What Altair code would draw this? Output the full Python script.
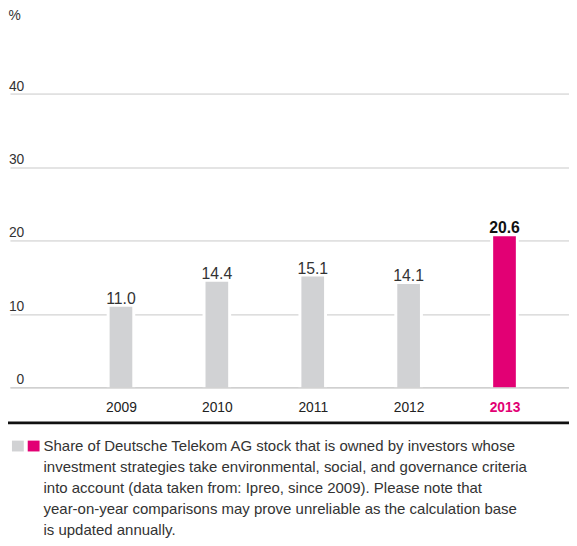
import altair as alt
import pandas as pd

years = [2009, 2010, 2011, 2012, 2013]
values = [11.0, 14.4, 15.1, 14.1, 20.6]
highlight_year = 2013
y_ticks = [0, 10, 20, 30, 40]
note_lines = [
    "Share of Deutsche Telekom AG stock that is owned by investors whose",
    "investment strategies take environmental, social, and governance criteria",
    "into account (data taken from: Ipreo, since 2009). Please note that",
    "year-on-year comparisons may prove unreliable as the calculation base",
    "is updated annually.",
]

GRAY = "#d1d2d4"
MAGENTA = "#e20074"
GRID = "#c8c8c8"
FONT = "Liberation Sans"

df = pd.DataFrame({
    "year": years,
    "value": values,
    "label": [f"{v:.1f}" for v in values],
    "hl": [y == highlight_year for y in years],
})

W, H = 567, 372
STEP = 99.0
FIRST = 109.5  # pixel centre of first bar inside the plot
x_domain = [years[0] - FIRST / STEP, years[0] + (W - FIRST) / STEP]

x = alt.X("year:Q",
          scale=alt.Scale(domain=x_domain, nice=False, zero=False),
          axis=alt.Axis(title=None, values=years, format="d", ticks=False, tickSize=0,
                        domain=True, domainColor=GRID, domainWidth=1, grid=False,
                        labelPadding=13, labelFontSize=14, labelFont=FONT,
                        labelAngle=0, labelFlush=False, zindex=1,
                        labelColor=alt.condition(f"datum.value == {highlight_year}",
                                                 alt.value(MAGENTA), alt.value("#222222")),
                        labelFontWeight=alt.condition(f"datum.value == {highlight_year}",
                                                      alt.value("bold"), alt.value("normal"))))
y = alt.Y("value:Q",
          scale=alt.Scale(domain=[0, 50], nice=False),
          axis=alt.Axis(values=y_ticks, title="%", titleAngle=0, titleX=-2, titleY=-5,
                        titleAlign="left", titleBaseline="middle", titleFontSize=14,
                        titleFontWeight="normal", titleColor="#333333", titleFont=FONT,
                        grid=True, gridColor=GRID, gridWidth=1, domain=False,
                        ticks=False, tickSize=0, labelPadding=-14, labelAlign="right",
                        labelOffset=-4, labelBaseline="alphabetic",
                        labelFontSize=14, labelFont=FONT, labelColor="#333333"))

base = alt.Chart(df)

halo = base.mark_bar(color="white", size=29).encode(x=x, y=y)
bars = base.mark_bar(size=23).encode(
    x=x, y=y,
    color=alt.condition("datum.hl", alt.value(MAGENTA), alt.value(GRAY)),
)
labels_norm = base.transform_filter("!datum.hl").mark_text(
    baseline="alphabetic", dy=-3, fontSize=16, font=FONT, color="#333333"
).encode(x=x, y=y, text="label:N")
labels_hl = base.transform_filter("datum.hl").mark_text(
    baseline="alphabetic", dy=-3, fontSize=16, font=FONT, color="#111111", fontWeight="bold"
).encode(x=x, y=y, text="label:N")

one = alt.Chart(pd.DataFrame({"k": [0]}))
rule = one.mark_rule(color="#111111", strokeWidth=3).encode(
    x=alt.value(-2), x2=alt.value(W), y=alt.value(408))
sq_gray = one.mark_rect(color=GRAY).encode(
    x=alt.value(2), x2=alt.value(14), y=alt.value(426), y2=alt.value(437))
sq_mag = one.mark_rect(color=MAGENTA).encode(
    x=alt.value(18), x2=alt.value(30), y=alt.value(426), y2=alt.value(437))
note = one.mark_text(text=note_lines, align="left", baseline="alphabetic",
                     fontSize=15.2, font=FONT, color="#333333", lineHeight=21.3).encode(
    x=alt.value(34), y=alt.value(437))

chart = alt.layer(halo, bars, labels_norm, labels_hl, rule, sq_gray, sq_mag, note).properties(
    width=W, height=H,
    autosize=alt.AutoSizeParams(type="none"),
    padding={"left": 2, "top": 9, "right": 0, "bottom": 150},
).configure(background="white").configure_view(stroke=None)

chart.save("out.html", embed_options={"renderer": "svg", "actions": False})
